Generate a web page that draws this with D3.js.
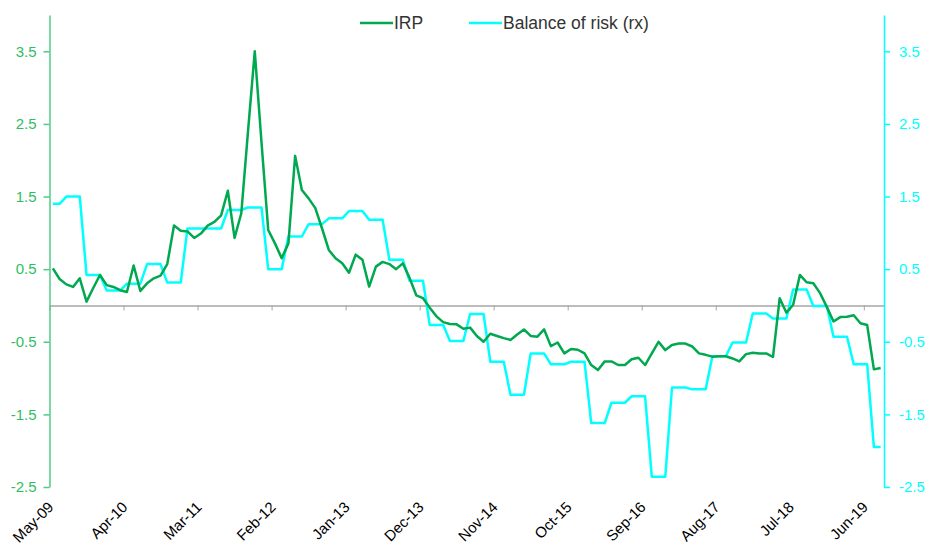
<!DOCTYPE html>
<html>
<head>
<meta charset="utf-8">
<script src="https://cdn.jsdelivr.net/npm/d3@7"></script>
<style>
  html, body { margin: 0; padding: 0; background: #fff; }
  svg { display: block; font-family: "Liberation Sans", Arial, sans-serif; }
</style>
</head>
<body>
<svg id="chart" width="928" height="545"></svg>
<script>
// ---- data (monthly, May-09 .. Aug-19) ----
const startMonth = "2009-05";
const tickLabels = ["May-09","Apr-10","Mar-11","Feb-12","Jan-13","Dec-13","Nov-14","Oct-15","Sep-16","Aug-17","Jul-18","Jun-19"];
const yTicks = [-2.5, -1.5, -0.5, 0.5, 1.5, 2.5, 3.5];

const irp = [
  0.51, 0.365, 0.29, 0.255, 0.374, 0.053, 0.24, 0.42, 0.28, 0.255,
  0.21, 0.186, 0.55, 0.20, 0.305, 0.374, 0.41, 0.57, 1.10, 1.03,
  1.02, 0.93, 0.99, 1.10, 1.15, 1.24, 1.58, 0.93, 1.27, 2.40,
  3.50, 2.25, 1.04, 0.855, 0.65, 0.855, 2.06, 1.59, 1.475, 1.34,
  1.06, 0.765, 0.65, 0.58, 0.45, 0.70, 0.63, 0.26, 0.535, 0.60,
  0.57, 0.50, 0.58, 0.38, 0.14, 0.10, -0.03, -0.15, -0.23, -0.255,
  -0.26, -0.32, -0.305, -0.42, -0.50, -0.39, -0.42, -0.45, -0.475, -0.40,
  -0.33, -0.42, -0.43, -0.33, -0.56, -0.51, -0.66, -0.60, -0.61, -0.66,
  -0.82, -0.89, -0.77, -0.77, -0.82, -0.82, -0.74, -0.72, -0.82, -0.66,
  -0.50, -0.615, -0.545, -0.525, -0.525, -0.565, -0.66, -0.68, -0.705, -0.70,
  -0.70, -0.73, -0.77, -0.67, -0.65, -0.66, -0.66, -0.71, 0.10, -0.10,
  0.01, 0.42, 0.32, 0.305, 0.17, -0.02, -0.22, -0.16, -0.155, -0.135,
  -0.245, -0.27, -0.88, -0.86
];

const balanceOfRisk = [
  1.40, 1.40, 1.50, 1.50, 1.50, 0.42, 0.42, 0.42, 0.205, 0.205,
  0.205, 0.30, 0.30, 0.30, 0.57, 0.57, 0.57, 0.315, 0.315, 0.315,
  1.06, 1.06, 1.06, 1.06, 1.06, 1.06, 1.315, 1.315, 1.315, 1.35,
  1.35, 1.35, 0.50, 0.50, 0.50, 0.95, 0.95, 0.95, 1.12, 1.12,
  1.12, 1.20, 1.20, 1.20, 1.30, 1.30, 1.30, 1.18, 1.18, 1.18,
  0.63, 0.63, 0.63, 0.34, 0.34, 0.34, -0.27, -0.27, -0.27, -0.49,
  -0.49, -0.49, -0.117, -0.117, -0.117, -0.775, -0.775, -0.775, -1.23, -1.23,
  -1.23, -0.66, -0.66, -0.66, -0.81, -0.81, -0.81, -0.775, -0.775, -0.775,
  -1.62, -1.62, -1.62, -1.34, -1.34, -1.34, -1.25, -1.25, -1.25, -2.36,
  -2.36, -2.36, -1.13, -1.13, -1.13, -1.155, -1.155, -1.155, -0.70, -0.70,
  -0.70, -0.51, -0.51, -0.51, -0.11, -0.11, -0.11, -0.18, -0.18, -0.18,
  0.22, 0.22, 0.22, -0.007, -0.007, -0.007, -0.43, -0.43, -0.43, -0.81,
  -0.81, -0.81, -1.95, -1.95
];

// ---- styling ----
const GREEN = "#00A84F";
const GREEN_AXIS = "#4CCB84";
const GREEN_TEXT = "#2EBE62";
const CYAN = "#00FFFF";

const svg = d3.select("#chart");
const n = irp.length;
const tickEvery = 11;

const x = d3.scaleLinear().domain([0, n]).range([49.5, 884]);
const y = d3.scaleLinear().domain([-2.5, 4]).range([487, 15]);

// zero line with category ticks
const xAxis = d3.axisBottom(x)
  .tickValues(tickLabels.map((d, i) => i * tickEvery))
  .tickSize(5).tickSizeOuter(0).tickFormat("");
const gx = svg.append("g").attr("transform", `translate(0,${y(0)})`).call(xAxis);
gx.select(".domain").attr("stroke", "#A6A6A6").attr("stroke-width", 1.5);
gx.selectAll(".tick line").attr("stroke", "#A6A6A6").attr("stroke-width", 1);

// x labels, rotated, along bottom
svg.append("g").selectAll("text")
  .data(tickLabels)
  .join("text")
  .attr("transform", (d, i) => `translate(${x(i * tickEvery) + 5},${508}) rotate(-45)`)
  .attr("text-anchor", "end")
  .attr("font-size", 15)
  .attr("fill", "#000")
  .text(d => d);

// left axis
const fmt = d => d.toFixed(1);
const gl = svg.append("g").attr("transform", `translate(${x(0)},0)`)
  .call(d3.axisLeft(y).tickValues(yTicks).tickFormat(fmt).tickSize(6).tickSizeOuter(0).tickPadding(7));
gl.select(".domain").attr("stroke", GREEN_AXIS).attr("stroke-width", 1.5);
gl.selectAll(".tick line").attr("stroke", GREEN_AXIS).attr("stroke-width", 1.5);
gl.selectAll(".tick text").attr("fill", GREEN_TEXT).attr("font-size", 15).attr("font-family", "Liberation Sans, Arial, sans-serif");

// right axis
const gr = svg.append("g").attr("transform", `translate(${x(n)},0)`)
  .call(d3.axisRight(y).tickValues(yTicks).tickFormat(fmt).tickSize(6).tickSizeOuter(0).tickPadding(9));
gr.select(".domain").attr("stroke", CYAN).attr("stroke-width", 1.5);
gr.selectAll(".tick line").attr("stroke", CYAN).attr("stroke-width", 1.5);
gr.selectAll(".tick text").attr("fill", CYAN).attr("font-size", 15).attr("font-family", "Liberation Sans, Arial, sans-serif");

// lines
const line = d3.line().x((d, i) => x(i + 0.5)).y(d => y(d));
svg.append("path").datum(balanceOfRisk)
  .attr("fill", "none").attr("stroke", CYAN).attr("stroke-width", 2.5)
  .attr("stroke-linejoin", "round").attr("d", line);
svg.append("path").datum(irp)
  .attr("fill", "none").attr("stroke", GREEN).attr("stroke-width", 2.5)
  .attr("stroke-linejoin", "round").attr("d", line);

// legend
const legend = [
  { name: "IRP", color: GREEN, x0: 360 },
  { name: "Balance of risk (rx)", color: CYAN, x0: 469 }
];
const lg = svg.append("g");
legend.forEach(l => {
  lg.append("line").attr("x1", l.x0).attr("x2", l.x0 + 33).attr("y1", 23).attr("y2", 23)
    .attr("stroke", l.color).attr("stroke-width", 2.5);
  lg.append("text").attr("x", l.x0 + 34).attr("y", 29).attr("font-size", 17.5)
    .attr("fill", "#333").text(l.name);
});
</script>
</body>
</html>
